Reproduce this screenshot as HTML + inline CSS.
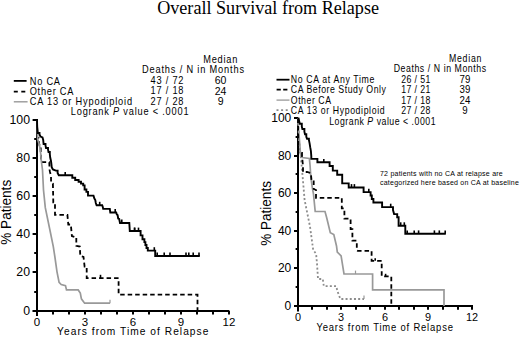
<!DOCTYPE html>
<html><head><meta charset="utf-8"><style>
html,body{margin:0;padding:0;background:#fff;}
body{width:520px;height:339px;overflow:hidden;}
svg{display:block;}
text{font-family:"Liberation Sans",sans-serif;}
text.serif{font-family:"Liberation Serif",serif;}
</style></head><body>
<svg width="520" height="339" viewBox="0 0 520 339">
<rect width="520" height="339" fill="#fff"/>
<text x="157.2" y="14.1" class="serif" font-size="18.4" textLength="221.8" lengthAdjust="spacingAndGlyphs">Overall Survival from Relapse</text>
<g stroke="#000" stroke-width="2" fill="none"><line x1="37.0" y1="119" x2="37.0" y2="316" /><line x1="32.8" y1="311.0" x2="229.4" y2="311.0" /><line x1="32.6" y1="311" x2="37.0" y2="311" /><line x1="32.6" y1="272" x2="37.0" y2="272" /><line x1="32.6" y1="234" x2="37.0" y2="234" /><line x1="32.6" y1="196" x2="37.0" y2="196" /><line x1="32.6" y1="158" x2="37.0" y2="158" /><line x1="32.6" y1="120" x2="37.0" y2="120" /><line x1="34.2" y1="292" x2="37.0" y2="292" /><line x1="34.2" y1="253" x2="37.0" y2="253" /><line x1="34.2" y1="215" x2="37.0" y2="215" /><line x1="34.2" y1="177" x2="37.0" y2="177" /><line x1="34.2" y1="139" x2="37.0" y2="139" /><line x1="37" y1="311.0" x2="37" y2="314.6" /><line x1="53" y1="311.0" x2="53" y2="314.6" /><line x1="69" y1="311.0" x2="69" y2="314.6" /><line x1="85" y1="311.0" x2="85" y2="314.6" /><line x1="101" y1="311.0" x2="101" y2="314.6" /><line x1="117" y1="311.0" x2="117" y2="314.6" /><line x1="133" y1="311.0" x2="133" y2="314.6" /><line x1="149" y1="311.0" x2="149" y2="314.6" /><line x1="165" y1="311.0" x2="165" y2="314.6" /><line x1="181" y1="311.0" x2="181" y2="314.6" /><line x1="197" y1="311.0" x2="197" y2="314.6" /><line x1="213" y1="311.0" x2="213" y2="314.6" /><line x1="229" y1="311.0" x2="229" y2="314.6" /><line x1="294" y1="306" x2="298.0" y2="306" /><line x1="294" y1="268" x2="298.0" y2="268" /><line x1="294" y1="231" x2="298.0" y2="231" /><line x1="294" y1="193" x2="298.0" y2="193" /><line x1="294" y1="156" x2="298.0" y2="156" /><line x1="294" y1="118" x2="298.0" y2="118" /><line x1="295.6" y1="287" x2="298.0" y2="287" /><line x1="295.6" y1="249" x2="298.0" y2="249" /><line x1="295.6" y1="212" x2="298.0" y2="212" /><line x1="295.6" y1="174" x2="298.0" y2="174" /><line x1="295.6" y1="137" x2="298.0" y2="137" /><line x1="298.0" y1="118" x2="298.0" y2="311.6" /><line x1="294" y1="306.0" x2="473" y2="306.0" /><line x1="298" y1="306.0" x2="298" y2="309.8" /><line x1="312" y1="306.0" x2="312" y2="309.8" /><line x1="327" y1="306.0" x2="327" y2="309.8" /><line x1="341" y1="306.0" x2="341" y2="309.8" /><line x1="356" y1="306.0" x2="356" y2="309.8" /><line x1="370" y1="306.0" x2="370" y2="309.8" /><line x1="385" y1="306.0" x2="385" y2="309.8" /><line x1="399" y1="306.0" x2="399" y2="309.8" /><line x1="414" y1="306.0" x2="414" y2="309.8" /><line x1="428" y1="306.0" x2="428" y2="309.8" /><line x1="443" y1="306.0" x2="443" y2="309.8" /><line x1="458" y1="306.0" x2="458" y2="309.8" /><line x1="472" y1="306.0" x2="472" y2="309.8" /></g>
<polyline points="37.0,120.0 37.2,138.0 38.5,138.0 38.5,140.0 39.5,145.4 40.7,145.4 40.7,153.6 41.3,160.7 41.5,162.2 49.3,162.2 49.6,170.0 50.0,172.0 51.0,176.0 51.1,182.4 52.9,183.6 53.3,202.4 55.0,202.4 55.0,206.8 55.0,214.8 67.4,214.8 68.3,224.5 71.0,224.5 71.0,226.3 71.9,236.0 74.5,236.9 76.3,236.9 76.3,245.8 79.8,246.6 80.3,256.0 83.5,257.0 84.6,266.5 86.7,266.5 86.7,268.6 86.7,278.2 118.6,278.2 118.6,294.6 197.5,294.6 197.5,311.0" fill="none" stroke="#000" stroke-width="1.8" stroke-dasharray="4.5,3"/>
<line x1="100.5" y1="278.2" x2="100.5" y2="274.8" stroke="#000" stroke-width="1.6"/>
<polyline points="37.0,120.0 37.7,139.0 39.5,145.4 40.7,153.6 41.3,160.7 42.5,170.0 43.5,190.0 45.3,207.7 49.7,229.0 53.3,246.6 54.9,257.0 57.0,271.8 59.1,282.4 61.2,284.6 65.5,285.6 66.5,289.9 78.2,289.9 80.3,293.0 81.4,298.8 84.6,303.2 110.0,303.2" fill="none" stroke="#999" stroke-width="1.7"/>
<line x1="110.0" y1="303.2" x2="110.0" y2="299.8" stroke="#999" stroke-width="1.2"/>
<polyline points="37.0,120.0 37.2,127.0 37.8,133.0 39.5,133.0 39.5,134.5 40.5,136.5 42.5,137.5 43.2,140.0 43.6,144.0 45.5,144.0 45.5,145.5 46.0,148.0 48.0,148.0 48.0,149.5 48.5,152.0 49.8,152.0 49.8,154.0 50.2,157.5 51.0,161.0 51.4,164.0 51.7,167.1 52.9,169.4 55.8,170.6 57.6,170.6 57.6,173.0 58.8,175.3 72.3,175.3 72.3,177.7 75.2,177.7 75.2,180.0 78.6,180.0 78.6,181.8 81.0,181.8 81.0,183.6 83.2,183.6 83.2,185.4 84.6,185.4 84.6,189.5 86.4,189.5 86.4,191.9 88.0,191.9 88.0,195.6 93.5,195.6 94.4,198.5 95.3,200.0 95.8,203.0 96.6,205.2 102.2,205.2 102.8,207.0 103.2,208.9 109.8,208.9 110.3,212.5 116.2,212.5 116.8,214.5 117.6,215.0 118.2,218.5 119.2,219.0 120.0,223.0 129.3,223.0 129.8,231.0 140.6,231.0 140.6,235.4 142.5,235.4 142.5,239.2 144.4,239.2 144.4,242.1 145.4,242.1 145.4,245.0 146.5,245.0 146.5,248.0 147.8,248.0 147.8,250.6 155.2,250.6 155.2,256.0 199.8,256.0" fill="none" stroke="#000" stroke-width="1.9" stroke-linejoin="miter"/>
<line x1="121.8" y1="223.0" x2="121.8" y2="219.6" stroke="#000" stroke-width="1.6"/><line x1="65.2" y1="175.3" x2="65.2" y2="171.9" stroke="#000" stroke-width="1.6"/><line x1="99.7" y1="205.2" x2="99.7" y2="201.8" stroke="#000" stroke-width="1.6"/><line x1="115.2" y1="212.5" x2="115.2" y2="209.1" stroke="#000" stroke-width="1.6"/><line x1="134.6" y1="231.0" x2="134.6" y2="227.6" stroke="#000" stroke-width="1.6"/><line x1="138.5" y1="231.0" x2="138.5" y2="227.6" stroke="#000" stroke-width="1.6"/><line x1="134.6" y1="231.0" x2="134.6" y2="227.6" stroke="#000" stroke-width="1.6"/><line x1="154.3" y1="250.6" x2="154.3" y2="247.2" stroke="#000" stroke-width="1.6"/><line x1="157.2" y1="256.0" x2="157.2" y2="252.6" stroke="#000" stroke-width="1.6"/><line x1="164.2" y1="256.0" x2="164.2" y2="252.6" stroke="#000" stroke-width="1.6"/><line x1="170.0" y1="256.0" x2="170.0" y2="252.6" stroke="#000" stroke-width="1.6"/><line x1="186.0" y1="256.0" x2="186.0" y2="252.6" stroke="#000" stroke-width="1.6"/><line x1="188.8" y1="256.0" x2="188.8" y2="252.6" stroke="#000" stroke-width="1.6"/><line x1="193.2" y1="256.0" x2="193.2" y2="252.6" stroke="#000" stroke-width="1.6"/><line x1="199.0" y1="256.0" x2="199.0" y2="252.6" stroke="#000" stroke-width="1.6"/>
<polyline points="298.0,118.5 299.0,140.0 301.0,158.8 302.5,175.0 304.6,200.0 310.0,226.5 313.2,250.0 316.1,253.8 317.0,263.5 318.0,279.0 322.8,279.0 323.8,286.1 336.3,286.1 337.3,290.8 340.4,299.0 364.0,299.0" fill="none" stroke="#8c8c8c" stroke-width="1.8" stroke-dasharray="2,2.2"/>
<line x1="364.0" y1="299.0" x2="364.0" y2="295.6" stroke="#999" stroke-width="1.2"/>
<polyline points="298.0,118.5 298.5,128.0 300.6,155.0 302.0,157.5 309.4,158.5 310.0,164.8 310.8,176.5 312.2,187.0 313.5,194.2 315.2,211.5 325.0,211.5 326.7,217.7 330.3,232.7 333.8,234.5 336.5,246.0 337.3,252.0 341.1,255.8 344.0,274.0 372.6,274.0 372.6,289.9 444.0,289.9 444.0,306.0" fill="none" stroke="#999" stroke-width="1.7"/>
<line x1="355.5" y1="274.0" x2="355.5" y2="270.6" stroke="#999" stroke-width="1.2"/>
<polyline points="298.0,118.5 298.3,153.0 302.0,153.0 302.0,156.0 303.0,166.0 303.0,172.0 307.0,172.0 310.8,173.0 311.5,180.0 313.7,180.0 313.7,189.0 316.0,190.0 316.0,197.8 340.0,197.8 341.8,197.8 341.8,201.3 341.8,208.4 344.4,208.4 344.4,211.5 344.4,218.6 350.6,218.6 350.6,229.2 352.4,229.2 352.4,234.5 352.4,240.7 356.8,240.7 356.8,250.4 357.7,250.9 371.6,250.9 371.6,260.8 381.7,260.8 381.7,276.3 391.3,276.3 391.3,306.0" fill="none" stroke="#000" stroke-width="1.8" stroke-dasharray="4.5,3"/>
<line x1="375.2" y1="260.8" x2="375.2" y2="258.3" stroke="#000" stroke-width="1.6"/><line x1="385.6" y1="276.3" x2="385.6" y2="273.8" stroke="#000" stroke-width="1.6"/>
<polyline points="298.0,118.5 298.6,118.5 299.2,121.2 299.8,123.8 301.8,123.8 301.8,126.4 302.4,129.0 304.4,129.0 304.4,131.6 305.0,134.2 306.3,134.2 306.3,136.8 307.0,138.7 308.9,138.7 308.9,140.0 309.6,143.3 310.2,147.2 310.9,151.0 311.3,156.3 311.3,158.9 317.4,158.9 317.4,162.3 329.6,162.3 329.6,166.0 332.8,166.0 332.8,170.6 337.2,170.6 337.2,174.8 342.2,174.8 342.2,183.4 348.7,183.4 348.7,187.5 363.6,187.5 363.6,192.1 370.6,192.1 370.6,195.5 371.8,195.5 371.8,199.0 373.4,199.0 373.4,202.5 382.1,202.5 382.1,207.1 393.0,207.1 393.0,210.0 394.1,214.1 397.2,214.1 397.2,217.2 398.6,217.2 398.6,225.7 405.3,225.7 405.3,233.8 445.8,233.8" fill="none" stroke="#000" stroke-width="1.9"/>
<line x1="323.8" y1="162.3" x2="323.8" y2="158.9" stroke="#000" stroke-width="1.6"/><line x1="351.5" y1="187.5" x2="351.5" y2="184.1" stroke="#000" stroke-width="1.6"/><line x1="354.4" y1="187.5" x2="354.4" y2="184.1" stroke="#000" stroke-width="1.6"/><line x1="368.8" y1="192.1" x2="368.8" y2="188.7" stroke="#000" stroke-width="1.6"/><line x1="390.7" y1="207.1" x2="390.7" y2="203.7" stroke="#000" stroke-width="1.6"/><line x1="400.7" y1="225.7" x2="400.7" y2="222.3" stroke="#000" stroke-width="1.6"/><line x1="404.3" y1="225.7" x2="404.3" y2="222.3" stroke="#000" stroke-width="1.6"/><line x1="407.2" y1="233.8" x2="407.2" y2="230.4" stroke="#000" stroke-width="1.6"/><line x1="414.2" y1="233.8" x2="414.2" y2="230.4" stroke="#000" stroke-width="1.6"/><line x1="418.6" y1="233.8" x2="418.6" y2="230.4" stroke="#000" stroke-width="1.6"/><line x1="434.4" y1="233.8" x2="434.4" y2="230.4" stroke="#000" stroke-width="1.6"/><line x1="439.3" y1="233.8" x2="439.3" y2="230.4" stroke="#000" stroke-width="1.6"/><line x1="445.2" y1="233.8" x2="445.2" y2="230.4" stroke="#000" stroke-width="1.6"/>
<g fill="#000"><text transform="scale(0.88,1)" x="230.97" y="63.0" font-size="10.5" textLength="38.74" lengthAdjust="spacing">Median</text><text transform="scale(0.88,1)" x="161.36" y="73.4" font-size="10.5" textLength="115.91" lengthAdjust="spacing">Deaths / N in Months</text><text transform="scale(0.88,1)" x="171.02" y="84.0" font-size="10.5" textLength="37.50" lengthAdjust="spacing">43 / 72</text><text x="220.6" y="84.0" font-size="10.5" text-anchor="middle">60</text><text transform="scale(0.88,1)" x="171.02" y="94.5" font-size="10.5" textLength="37.50" lengthAdjust="spacing">17 / 18</text><text x="220.6" y="94.5" font-size="10.5" text-anchor="middle">24</text><text transform="scale(0.88,1)" x="171.02" y="104.9" font-size="10.5" textLength="37.50" lengthAdjust="spacing">27 / 28</text><text x="220.6" y="104.9" font-size="10.5" text-anchor="middle">9</text><text transform="scale(0.88,1)" x="33.75" y="84.6" font-size="10.5" textLength="34.43" lengthAdjust="spacing">No CA</text><text transform="scale(0.88,1)" x="33.75" y="95.0" font-size="10.5" textLength="49.66" lengthAdjust="spacing">Other CA</text><text transform="scale(0.88,1)" x="33.75" y="105.3" font-size="10.5" textLength="116.30" lengthAdjust="spacing">CA 13 or Hypodiploid</text><text transform="scale(0.88,1)" x="80.45" y="115.5" font-size="10.5" textLength="133.80" lengthAdjust="spacing">Logrank <tspan font-style="italic">P</tspan> value &lt; .0001</text><line x1="13.8" y1="80.9" x2="26.6" y2="80.9" stroke="#000" stroke-width="1.8"/><line x1="13.8" y1="91.6" x2="26.6" y2="91.6" stroke="#000" stroke-width="1.8" stroke-dasharray="4,3.5"/><line x1="13.8" y1="101.8" x2="27.6" y2="101.8" stroke="#999" stroke-width="1.4"/><text x="30.0" y="315.0" font-size="12.3" text-anchor="end">0</text><text x="30.0" y="276.0" font-size="12.3" text-anchor="end">20</text><text x="30.0" y="238.0" font-size="12.3" text-anchor="end">40</text><text x="30.0" y="200.0" font-size="12.3" text-anchor="end">60</text><text x="30.0" y="162.0" font-size="12.3" text-anchor="end">80</text><text x="30.0" y="124.0" font-size="12.3" text-anchor="end">100</text><text x="37.0" y="325.6" font-size="11.5" text-anchor="middle">0</text><text x="85.0" y="325.6" font-size="11.5" text-anchor="middle">3</text><text x="133.0" y="325.6" font-size="11.5" text-anchor="middle">6</text><text x="181.0" y="325.6" font-size="11.5" text-anchor="middle">9</text><text x="229.0" y="325.6" font-size="11.5" text-anchor="middle">12</text><text transform="scale(0.88,1)" x="64.89" y="334.7" font-size="11.6" textLength="171.88" lengthAdjust="spacing">Years from Time of Relapse</text><text transform="translate(10.9,244.8) rotate(-90)" font-size="14.5" textLength="65.0" lengthAdjust="spacingAndGlyphs">% Patients</text><text transform="scale(0.85,1)" x="528.12" y="61.8" font-size="10.3" textLength="38.31" lengthAdjust="spacing">Median</text><text transform="scale(0.85,1)" x="463.18" y="72.2" font-size="10.3" textLength="108.71" lengthAdjust="spacing">Deaths / N in Months</text><text transform="scale(0.85,1)" x="472.00" y="83.0" font-size="10.3" textLength="34.35" lengthAdjust="spacing">26 / 51</text><text transform="scale(0.94,1)" x="494.68" y="83.0" font-size="10.3" text-anchor="middle">79</text><text transform="scale(0.85,1)" x="472.00" y="93.3" font-size="10.3" textLength="34.35" lengthAdjust="spacing">17 / 21</text><text transform="scale(0.94,1)" x="494.68" y="93.3" font-size="10.3" text-anchor="middle">39</text><text transform="scale(0.85,1)" x="472.00" y="103.8" font-size="10.3" textLength="34.35" lengthAdjust="spacing">17 / 18</text><text transform="scale(0.94,1)" x="494.68" y="103.8" font-size="10.3" text-anchor="middle">24</text><text transform="scale(0.85,1)" x="472.00" y="113.9" font-size="10.3" textLength="34.35" lengthAdjust="spacing">27 / 28</text><text transform="scale(0.94,1)" x="494.68" y="113.9" font-size="10.3" text-anchor="middle">9</text><text transform="scale(0.85,1)" x="342.12" y="83.0" font-size="10.3" textLength="98.31" lengthAdjust="spacing">No CA at Any Time</text><text transform="scale(0.85,1)" x="342.12" y="93.2" font-size="10.3" textLength="111.88" lengthAdjust="spacing">CA Before Study Only</text><text transform="scale(0.85,1)" x="342.12" y="103.8" font-size="10.3" textLength="47.38" lengthAdjust="spacing">Other CA</text><text transform="scale(0.85,1)" x="342.12" y="113.6" font-size="10.3" textLength="110.31" lengthAdjust="spacing">CA 13 or Hypodiploid</text><text transform="scale(0.85,1)" x="387.29" y="124.8" font-size="10.3" textLength="125.13" lengthAdjust="spacing">Logrank <tspan font-style="italic">P</tspan> value &lt; .0001</text><line x1="276.5" y1="79.7" x2="289.5" y2="79.7" stroke="#000" stroke-width="1.8"/><line x1="276.6" y1="89.7" x2="289.5" y2="89.7" stroke="#000" stroke-width="1.8" stroke-dasharray="4.2,2.4"/><line x1="276.5" y1="100.1" x2="289.5" y2="100.1" stroke="#999" stroke-width="1.3"/><line x1="276.5" y1="110.2" x2="289.5" y2="110.2" stroke="#8a8a8a" stroke-width="1.8" stroke-dasharray="2,2.6"/><text x="291.3" y="309.8" font-size="12.0" text-anchor="end">0</text><text x="291.3" y="271.8" font-size="12.0" text-anchor="end">20</text><text x="291.3" y="234.8" font-size="12.0" text-anchor="end">40</text><text x="291.3" y="196.8" font-size="12.0" text-anchor="end">60</text><text x="291.3" y="159.8" font-size="12.0" text-anchor="end">80</text><text x="291.3" y="121.8" font-size="12.0" text-anchor="end">100</text><text x="298.0" y="321.3" font-size="10.9" text-anchor="middle">0</text><text x="341.0" y="321.3" font-size="10.9" text-anchor="middle">3</text><text x="385.0" y="321.3" font-size="10.9" text-anchor="middle">6</text><text x="428.0" y="321.3" font-size="10.9" text-anchor="middle">9</text><text x="472.0" y="321.3" font-size="10.9" text-anchor="middle">12</text><text transform="scale(0.86,1)" x="368.02" y="330.8" font-size="11.0" textLength="158.65" lengthAdjust="spacing">Years from Time of Relapse</text><text transform="translate(271.2,245.7) rotate(-90)" font-size="14.2" textLength="64.6" lengthAdjust="spacingAndGlyphs">% Patients</text><text transform="scale(0.88,1)" x="431.82" y="176.0" font-size="8.0" textLength="139.49" lengthAdjust="spacing">72 patients with no CA at relapse are</text><text transform="scale(0.88,1)" x="431.82" y="184.6" font-size="8.0" textLength="157.78" lengthAdjust="spacing">categorized here based on CA at baseline</text></g>
</svg>
</body></html>
